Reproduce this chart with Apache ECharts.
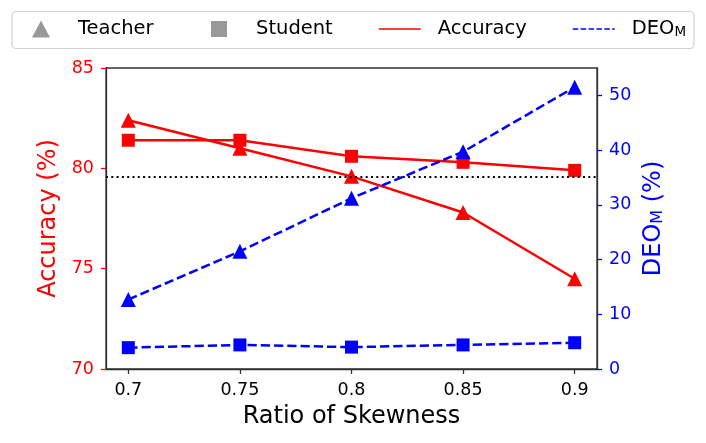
<!DOCTYPE html>
<html>
<head>
<meta charset="utf-8">
<script src="https://cdn.jsdelivr.net/npm/echarts@6/dist/echarts.min.js"></script>
<style>
html,body{margin:0;padding:0;background:#fff;}
#c{width:706px;height:443px;}
</style>
</head>
<body>
<div id="c"></div>
<script>
// ---- data ----
var ratios = [0.7, 0.75, 0.8, 0.85, 0.9];
var teacherAcc = [82.4, 81.0, 79.6, 77.8, 74.5];
var studentAcc = [81.4, 81.4, 80.6, 80.3, 79.9];
var teacherDEO = [12.7, 21.5, 31.2, 39.7, 51.5];
var studentDEO = [3.9, 4.4, 4.0, 4.4, 4.8];
var refAccuracy = 79.6;
var xTicks = [0.7, 0.75, 0.8, 0.85, 0.9];
var accTicks = [70, 75, 80, 85];
var deoTicks = [0, 10, 20, 30, 40, 50];

function pairs(ys) { return ratios.map(function (x, i) { return [x, ys[i]]; }); }

var FONT = 'DejaVu Sans';
var chart = echarts.init(document.getElementById('c'), null, {renderer: 'canvas'});

var legendText = {fontFamily: FONT, fontSize: 19.5, color: '#000', lineHeight: 20};
var hiddenSymbol = {color: 'rgba(0,0,0,0)', borderWidth: 0, opacity: 0};

var option = {
  animation: false,
  backgroundColor: '#fff',
  textStyle: {fontFamily: FONT},
  graphic: [{
    type: 'rect', z: 0,
    shape: {x: 12, y: 11.5, width: 682, height: 37, r: 4},
    style: {fill: '#fff', stroke: '#d0d0d0', lineWidth: 1.2}
  }],
  legend: [
    {data: ['Teacher'], left: 32, top: 19, padding: 0, itemWidth: 18, itemHeight: 17, icon: 'triangle', z: 5,
     textStyle: Object.assign({padding: [0, 0, 0, 23]}, legendText)},
    {data: ['Student'], left: 211, top: 19, padding: 0, itemWidth: 16, itemHeight: 16, icon: 'rect', z: 5,
     textStyle: Object.assign({padding: [0, 0, 0, 24]}, legendText)},
    {data: ['Accuracy'], left: 378, top: 19, padding: 0, itemWidth: 42, itemHeight: 14, z: 5,
     itemStyle: hiddenSymbol,
     lineStyle: {color: '#ff0000', width: 1.5},
     textStyle: Object.assign({padding: [0, 0, 0, 12]}, legendText)},
    {data: ['DEOM'], left: 572, top: 19, padding: 0, itemWidth: 42, itemHeight: 14, z: 5,
     itemStyle: hiddenSymbol,
     lineStyle: {color: '#0000ff', width: 1.5, type: [5.5, 2.4]},
     formatter: function () { return '{a|DEO}{b|M}'; },
     textStyle: Object.assign({padding: [0, 0, 0, 12],
       rich: {
         a: {fontFamily: FONT, fontSize: 19.5, lineHeight: 20, color: '#000'},
         b: {fontFamily: FONT, fontSize: 13.5, lineHeight: 14, verticalAlign: 'bottom', color: '#000'}
       }}, legendText)}
  ],
  grid: {left: 106, right: 109, top: 68, bottom: 74, show: true, borderColor: '#333', borderWidth: 1.3, containLabel: false},
  xAxis: {
    type: 'value', min: 0.69, max: 0.91,
    name: 'Ratio of Skewness', nameLocation: 'middle', nameGap: 36,
    nameTextStyle: {fontFamily: FONT, fontSize: 24, color: '#000'},
    axisLine: {show: true, lineStyle: {color: '#333', width: 1.3}},
    axisTick: {show: true, length: 5, customValues: xTicks, lineStyle: {color: '#333', width: 1.3}},
    axisLabel: {customValues: xTicks, margin: 12, fontFamily: FONT, fontSize: 17.5, color: '#000'},
    splitLine: {show: false}
  },
  yAxis: [
    {
      type: 'value', min: 70, max: 85, interval: 5, position: 'left',
      name: 'Accuracy (%)', nameLocation: 'middle', nameGap: 44,
      nameTextStyle: {fontFamily: FONT, fontSize: 24, color: '#ff0000'},
      axisLine: {show: true, lineStyle: {color: '#333', width: 1.3}},
      axisTick: {show: true, length: 5, customValues: accTicks, lineStyle: {color: '#ff0000', width: 1.3}},
      axisLabel: {customValues: accTicks, margin: 12, fontFamily: FONT, fontSize: 17.5, color: '#ff0000'},
      splitLine: {show: false}
    },
    {
      type: 'value', min: 0, max: 55, position: 'right',
      name: '{a|DEO}{b|M}{a| (%)}', nameLocation: 'middle', nameGap: 40,
      nameTextStyle: {fontFamily: FONT, fontSize: 24, color: '#0000ff',
        rich: {
          a: {fontFamily: FONT, fontSize: 24, lineHeight: 24, color: '#0000ff'},
          b: {fontFamily: FONT, fontSize: 16, lineHeight: 16, verticalAlign: 'bottom', color: '#0000ff'}
        }},
      axisLine: {show: true, lineStyle: {color: '#333', width: 1.3}},
      axisTick: {show: true, length: 5, customValues: deoTicks, lineStyle: {color: '#0000ff', width: 1.3}},
      axisLabel: {customValues: deoTicks, margin: 12, fontFamily: FONT, fontSize: 17.5, color: '#0000ff'},
      splitLine: {show: false}
    }
  ],
  series: [
    {
      name: 'Teacher Accuracy', type: 'line', yAxisIndex: 0, data: pairs(teacherAcc),
      symbol: 'triangle', symbolSize: 15, itemStyle: {color: '#ff0000'},
      lineStyle: {color: '#ff0000', width: 2.5}, z: 3,
      markLine: {
        silent: true, symbol: ['none', 'none'], label: {show: false},
        lineStyle: {color: '#000', type: [2, 3.3], width: 2},
        data: [{yAxis: refAccuracy}]
      }
    },
    {
      name: 'Student Accuracy', type: 'line', yAxisIndex: 0, data: pairs(studentAcc),
      symbol: 'rect', symbolSize: 13, itemStyle: {color: '#ff0000'},
      lineStyle: {color: '#ff0000', width: 2.5}, z: 3
    },
    {
      name: 'Teacher DEO', type: 'line', yAxisIndex: 1, data: pairs(teacherDEO),
      symbol: 'triangle', symbolSize: 15, itemStyle: {color: '#0000ff'},
      lineStyle: {color: '#0000ff', width: 2.5, type: [9.25, 4]}, z: 3
    },
    {
      name: 'Student DEO', type: 'line', yAxisIndex: 1, data: pairs(studentDEO),
      symbol: 'rect', symbolSize: 13, itemStyle: {color: '#0000ff'},
      lineStyle: {color: '#0000ff', width: 2.5, type: [9.25, 4]}, z: 3
    },
    // legend-only entries
    {name: 'Teacher', type: 'scatter', data: [], itemStyle: {color: '#808080'}},
    {name: 'Student', type: 'scatter', data: [], itemStyle: {color: '#808080'}},
    {name: 'Accuracy', type: 'line', data: [], symbol: 'none', itemStyle: {color: '#ff0000'},
     lineStyle: {color: '#ff0000', width: 1.5}},
    {name: 'DEOM', type: 'line', data: [], symbol: 'none', itemStyle: {color: '#0000ff'},
     lineStyle: {color: '#0000ff', width: 1.5, type: [5.5, 2.4]}}
  ]
};
chart.setOption(option);
</script>
</body>
</html>
